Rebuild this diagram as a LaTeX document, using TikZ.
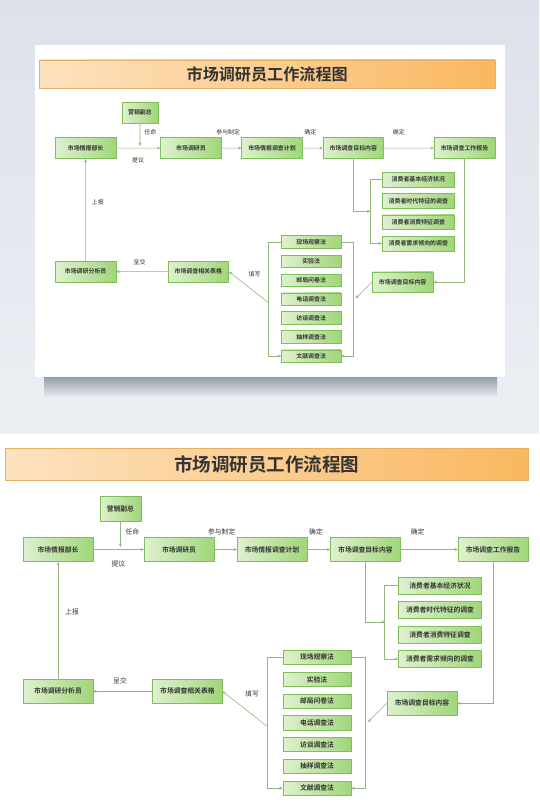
\documentclass[tikz,border=0pt]{standalone}
\usepackage{fontspec}
\newfontfamily\cjk{Noto Sans CJK SC}[BoldFont={Noto Sans CJK SC Bold}]
\usetikzlibrary{arrows.meta}

\definecolor{boxline}{RGB}{128,190,92}
\definecolor{boxlight}{RGB}{222,241,206}
\definecolor{boxdark}{RGB}{160,214,122}
\definecolor{linkc}{RGB}{150,180,125}
\definecolor{txt}{RGB}{51,51,51}
\definecolor{bannerl}{RGB}{253,226,192}
\definecolor{bannerr}{RGB}{249,184,96}
\definecolor{bannerline}{RGB}{233,176,96}
\definecolor{bgtop}{RGB}{221,225,233}
\definecolor{bgbot}{RGB}{236,239,244}
\definecolor{shadowc}{RGB}{150,156,164}

\begin{document}
\begin{tikzpicture}[x=1pt, y=-1pt,
  box/.style={draw=boxline, line width=0.5pt, left color=boxlight, right color=boxdark, minimum width=69.5pt, minimum height=24.3pt, inner sep=0pt, text=txt, font=\cjk\bfseries\fontsize{6.8}{8}\selectfont},
  cbox/.style={box, minimum width=83pt, minimum height=17pt},
  mbox/.style={box, minimum width=68pt, minimum height=14.3pt},
  banner/.style={draw=bannerline, line width=0.6pt, left color=bannerl, right color=bannerr, minimum width=523pt, minimum height=32.4pt, inner sep=0pt, text=txt, font=\cjk\bfseries\fontsize{18.5}{20}\selectfont},
  lbl/.style={inner sep=0pt, text=txt, font=\cjk\fontsize{6.8}{8}\selectfont},
  link/.style={draw=linkc, line width=0.6pt},
  arr/.style={link, -{Stealth[length=3.5pt, width=3pt]}}
]
\useasboundingbox (0,0) rectangle (539,812);

% mock-up backdrop
\shade[top color=bgtop, bottom color=bgbot] (0,0) rectangle (539,433);
\shade[top color=shadowc, bottom color=bgbot] (44,377) rectangle (497,398);
\fill[white] (34.5,45) rectangle (505,377);

% the chart twice: full size below, scaled onto the card above
\foreach \s/\dx/\dy/\p in {1/0/0/b-, 0.871/35.1/-330.5/t-}{
\begin{scope}[shift={(\dx,\dy)}, scale=\s, transform shape, name prefix=\p]

\node[banner] (title) at (266.5,464.5) {市场调研员工作流程图};

\node[box, minimum width=41pt] (vp) at (120.4,508.8) {营销副总};
\node[box] (chief) at (58,549.5) {市场情报部长};
\node[box] (researcher) at (179,549.5) {市场调研员};
\node[box] (plan) at (272,549.5) {市场情报调查计划};
\node[box] (target) at (365.4,549.5) {市场调查目标内容};
\node[box] (report) at (493,549.5) {市场调查工作报告};

\node[cbox] (c1) at (440,585.5) {消费者基本经济状况};
\node[cbox] (c2) at (440,610) {消费者时代特征的调查};
\node[cbox] (c3) at (440,634.5) {消费者消费特征调查};
\node[cbox] (c4) at (440,659) {消费者需求倾向的调查};

\node[mbox] (m1) at (317,657.2) {现场观察法};
\node[mbox] (m2) at (317,679.5) {实验法};
\node[mbox] (m3) at (317,701.2) {邮局问卷法};
\node[mbox] (m4) at (317,722.7) {电话调查法};
\node[mbox] (m5) at (317,744.5) {访谈调查法};
\node[mbox] (m6) at (317,766.2) {抽样调查法};
\node[mbox] (m7) at (317,788.2) {文献调查法};

\node[box] (analyst) at (58,691.3) {市场调研分析员};
\node[box] (forms) at (187.4,691.3) {市场调查相关表格};
\node[box, minimum width=70pt, minimum height=23.5pt] (target2) at (422,703.3) {市场调查目标内容};

\coordinate (vpend) at (120.4,547);
\coordinate (cjoin) at (385,622);
\coordinate (fillpt) at (268,727);
\coordinate (diagend) at (368,722);

\draw[arr] (vp) -- (vpend);
\draw[arr] (chief) -- (researcher);
\draw[arr] (researcher) -- (plan);
\draw[arr] (plan) -- (target);
\draw[arr] (target) -- (report);
\draw[arr] (target.south) |- (cjoin);
\draw[arr] (c1.west) -- ++(-13.5,0) |- (c4.west);
\draw[arr] (report.south) |- (target2.east);
\draw[arr] (target2.west) -- (diagend);
\draw[arr] (m1.west) -- ++(-15,0) |- (m7.west);
\draw[arr] (m1.east) -- ++(14,0) |- (m7.east);
\draw[arr] (fillpt) -- (forms.east);
\draw[arr] (forms) -- (analyst);
\draw[arr] (analyst) -- (chief);

\node[lbl] (l1) at (132.3,531.7) {任命};
\node[lbl] (l2) at (118.3,563.5) {提议};
\node[lbl] (l3) at (221.7,531.7) {参与制定};
\node[lbl] (l4) at (316,531.7) {确定};
\node[lbl] (l5) at (417.7,531.7) {确定};
\node[lbl] (l6) at (72,612) {上报};
\node[lbl] (l7) at (120,681) {呈交};
\node[lbl] (l8) at (252,694) {填写};

\end{scope}
}

\end{tikzpicture}
\end{document}
